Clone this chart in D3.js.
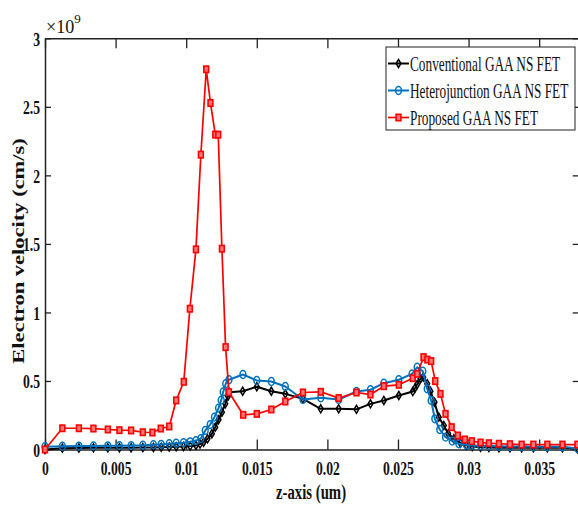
<!DOCTYPE html>
<html>
<head>
<meta charset="utf-8">
<script src="https://cdn.jsdelivr.net/npm/d3@7"></script>
<style>
  body { margin: 0; background: #fff; }
  text { font-family: "Liberation Serif", "Times New Roman", serif; }
</style>
</head>
<body>
<div id="chart"></div>
<script>
// data (z in um, velocity in 1e9 cm/s)
var convZ = [0, 0.00123, 0.0024, 0.00343, 0.00445, 0.00527, 0.0061, 0.00693, 0.00768, 0.00823, 0.0088, 0.00929, 0.00981, 0.01028, 0.01069, 0.01098,
  0.01123, 0.01151, 0.01182, 0.01206, 0.01229, 0.01253, 0.01277, 0.01296, 0.01305, 0.014, 0.015, 0.01603, 0.01702, 0.01827, 0.01953, 0.0208,
  0.02206, 0.02305, 0.024, 0.02506, 0.02605, 0.0262, 0.02636, 0.0266, 0.02679, 0.02707, 0.0273, 0.02759, 0.02789, 0.02825, 0.02856, 0.02896,
  0.02943, 0.02984, 0.03026, 0.03085, 0.03144, 0.03215, 0.03293, 0.03376, 0.03459, 0.03558, 0.03665, 0.03771];
var convV = [0, 0.01, 0.011, 0.012, 0.012, 0.013, 0.013, 0.014, 0.015, 0.016, 0.018, 0.02, 0.022, 0.025, 0.03, 0.04,
  0.053, 0.078, 0.115, 0.163, 0.217, 0.272, 0.333, 0.389, 0.418, 0.425, 0.458, 0.425, 0.406, 0.37, 0.297, 0.297,
  0.293, 0.333, 0.358, 0.394, 0.423, 0.447, 0.474, 0.516, 0.528, 0.48, 0.425, 0.345, 0.236, 0.175, 0.115, 0.078,
  0.046, 0.03, 0.022, 0.016, 0.014, 0.013, 0.012, 0.012, 0.012, 0.012, 0.012, 0.005];

var hetZ = [0, 0.00123, 0.0024, 0.00343, 0.00445, 0.00527, 0.0061, 0.00693, 0.00768, 0.00823, 0.0088, 0.00929, 0.00981, 0.01028, 0.01069, 0.01104,
  0.01135, 0.0117, 0.012, 0.01229, 0.01248, 0.01262, 0.0128, 0.01303, 0.01402, 0.015, 0.01603, 0.01702, 0.01827, 0.01953, 0.0208, 0.02206,
  0.02305, 0.024, 0.02506, 0.026, 0.02636, 0.02676, 0.02707, 0.02735, 0.02761, 0.02796, 0.02837, 0.02884, 0.02931, 0.02984, 0.03023, 0.03085,
  0.03144, 0.03215, 0.03293, 0.03376, 0.03459, 0.03558, 0.03665, 0.03771];
var hetV = [0.02, 0.024, 0.025, 0.026, 0.027, 0.028, 0.029, 0.031, 0.035, 0.038, 0.042, 0.046, 0.05, 0.056, 0.065, 0.08,
  0.139, 0.182, 0.236, 0.302, 0.36, 0.42, 0.48, 0.509, 0.547, 0.504, 0.496, 0.46, 0.365, 0.377, 0.365, 0.423,
  0.436, 0.484, 0.509, 0.552, 0.6, 0.571, 0.443, 0.358, 0.224, 0.146, 0.09, 0.061, 0.042, 0.034, 0.03, 0.027,
  0.025, 0.023, 0.022, 0.021, 0.02, 0.02, 0.02, 0.008];

var propZ = [0, 0.00123, 0.0024, 0.00343, 0.00445, 0.00527, 0.0061, 0.00693, 0.00761, 0.0082, 0.0088, 0.00929, 0.00983, 0.01026, 0.01069, 0.01104,
  0.01142, 0.01172, 0.01206, 0.01227, 0.01253, 0.01279, 0.01303, 0.01404, 0.015, 0.01603, 0.01702, 0.01827, 0.01953, 0.0208, 0.02206, 0.02305,
  0.024, 0.02506, 0.02605, 0.02636, 0.02681, 0.02708, 0.02735, 0.02764, 0.02801, 0.02837, 0.0288, 0.02924, 0.02974, 0.03023, 0.03085, 0.03144,
  0.03215, 0.03293, 0.03376, 0.03459, 0.03558, 0.03665, 0.03771];
var propV = [0, 0.155, 0.155, 0.153, 0.146, 0.141, 0.139, 0.126, 0.124, 0.153, 0.168, 0.358, 0.494, 1.027, 1.46, 2.151,
  2.774, 2.528, 2.297, 2.297, 1.465, 0.747, 0.418, 0.253, 0.26, 0.292, 0.35, 0.416, 0.421, 0.375, 0.416, 0.401,
  0.462, 0.472, 0.52, 0.552, 0.674, 0.656, 0.645, 0.499, 0.406, 0.26, 0.163, 0.102, 0.073, 0.061, 0.051, 0.046,
  0.042, 0.039, 0.036, 0.036, 0.036, 0.036, 0.036];

var seriesNames = ["Conventional GAA NS FET", "Heterojunction GAA NS FET", "Proposed GAA NS FET"];
var xTicks = [0, 0.005, 0.01, 0.015, 0.02, 0.025, 0.03, 0.035];
var yTicks = [0, 0.5, 1, 1.5, 2, 2.5, 3];

// figure was squeezed sideways, so text gets the same squeeze
var squeeze = 0.72;

var width = 578, height = 508;
var margin = {top: 38.3, left: 45, bottom: 58.5, right: -0.7};

var svg = d3.select("#chart")
  .append("svg")
  .attr("width", width)
  .attr("height", height);

var x = d3.scaleLinear()
  .domain([0, 0.0378])
  .range([margin.left, width - margin.right]);
var y = d3.scaleLinear()
  .domain([0, 3])
  .range([height - margin.bottom, margin.top]);

// axes (ticks point inward like matlab)
var fmt = d3.format("~g");
var gx = svg.append("g")
  .attr("transform", "translate(0," + y(0) + ")")
  .call(d3.axisBottom(x).tickValues(xTicks).tickSize(-10).tickSizeOuter(0).tickFormat(fmt));
gx.selectAll("text")
  .attr("y", 26).attr("dy", null)
  .attr("transform", "scale(" + squeeze + ",1)")
  .style("font-size", "19px").style("font-weight", "bold").style("fill", "#111");

var gy = svg.append("g")
  .attr("transform", "translate(" + x(0) + ",0)")
  .call(d3.axisLeft(y).tickValues(yTicks).tickSize(-6).tickSizeOuter(0).tickFormat(fmt));
gy.selectAll("text")
  .attr("x", -5 / squeeze).attr("y", 7).attr("dy", null)
  .attr("transform", "scale(" + squeeze + ",1)")
  .style("font-size", "19px").style("font-weight", "bold").style("fill", "#111");

svg.append("g")
  .attr("transform", "translate(0," + y(3) + ")")
  .call(d3.axisTop(x).tickValues(xTicks).tickSize(-10).tickSizeOuter(0).tickFormat(""));
svg.append("g")
  .attr("transform", "translate(" + x.range()[1] + ",0)")
  .call(d3.axisRight(y).tickValues(yTicks).tickSize(-6).tickSizeOuter(0).tickFormat(""));

svg.selectAll(".domain").attr("stroke", "#222").attr("stroke-width", 1.5);
svg.selectAll(".tick line").attr("stroke", "#222").attr("stroke-width", 1.3);

// exponent label
var expo = svg.append("text")
  .attr("x", 46).attr("y", 33)
  .style("font-size", "18px").style("fill", "#111");
expo.append("tspan").text("\u00d710");
expo.append("tspan").attr("dy", -10).style("font-size", "13px").text("9");

// axis titles
svg.append("g")
  .attr("transform", "translate(311,499) scale(" + squeeze + ",1)")
  .append("text")
  .attr("text-anchor", "middle")
  .style("font-size", "20.5px").style("font-weight", "bold").style("fill", "#111")
  .text("z-axis (um)");

svg.append("g")
  .attr("transform", "translate(24,251) scale(" + squeeze + ",1) rotate(-90)")
  .append("text")
  .attr("text-anchor", "middle")
  .style("font-size", "22.5px").style("font-weight", "bold").style("fill", "#111")
  .text("Electron velocity (cm/s)");

// series
var series = [
  {name: seriesNames[0], z: convZ, v: convV, color: "#000000", lw: 2, marker: "diamond"},
  {name: seriesNames[1], z: hetZ, v: hetV, color: "#0072BD", lw: 2, marker: "circle"},
  {name: seriesNames[2], z: propZ, v: propV, color: "#FF0000", lw: 1.7, marker: "square"}
];

var line = d3.line()
  .x(function(d) { return x(d[0]); })
  .y(function(d) { return y(d[1]); });

function drawMarker(g, kind, color) {
  if (kind == "diamond") {
    g.append("path").attr("d", "M0,-4L2.4,0L0,4L-2.4,0Z")
      .attr("fill", "none").attr("stroke", color).attr("stroke-width", 1.5);
  } else if (kind == "circle") {
    g.append("ellipse").attr("rx", 2.9).attr("ry", 3.9)
      .attr("fill", "none").attr("stroke", color).attr("stroke-width", 1.5);
  } else {
    g.append("rect").attr("x", -2.4).attr("y", -3.2).attr("width", 4.8).attr("height", 6.4)
      .attr("fill", "#ff7777").attr("stroke", color).attr("stroke-width", 1.6);
  }
}

series.forEach(function(s) {
  var pts = s.z.map(function(z, i) { return [z, s.v[i]]; });
  var g = svg.append("g");
  g.append("path")
    .datum(pts)
    .attr("fill", "none")
    .attr("stroke", s.color)
    .attr("stroke-width", s.lw)
    .attr("stroke-linejoin", "round")
    .attr("d", line);
  g.selectAll("g.mk")
    .data(pts)
    .enter()
    .append("g")
    .attr("class", "mk")
    .attr("transform", function(d) { return "translate(" + x(d[0]) + "," + y(d[1]) + ")"; })
    .each(function() { drawMarker(d3.select(this), s.marker, s.color); });
});

// legend (text squeezed like the rest of the figure)
var legendSqueeze = 0.665;
var lg = svg.append("g").attr("transform", "translate(386,47)");
lg.append("rect")
  .attr("width", 189).attr("height", 83)
  .attr("fill", "#fff").attr("stroke", "#222").attr("stroke-width", 1);
series.forEach(function(s, i) {
  var row = lg.append("g").attr("transform", "translate(0," + (16.5 + i * 27) + ")");
  row.append("line")
    .attr("x1", 2).attr("x2", 23)
    .attr("stroke", s.color).attr("stroke-width", s.lw);
  drawMarker(row.append("g").attr("transform", "translate(12.5,0)"), s.marker, s.color);
  row.append("g")
    .attr("transform", "translate(24,7) scale(" + legendSqueeze + ",1)")
    .append("text")
    .style("font-size", "20px").style("fill", "#111")
    .text(s.name);
});
</script>
</body>
</html>
